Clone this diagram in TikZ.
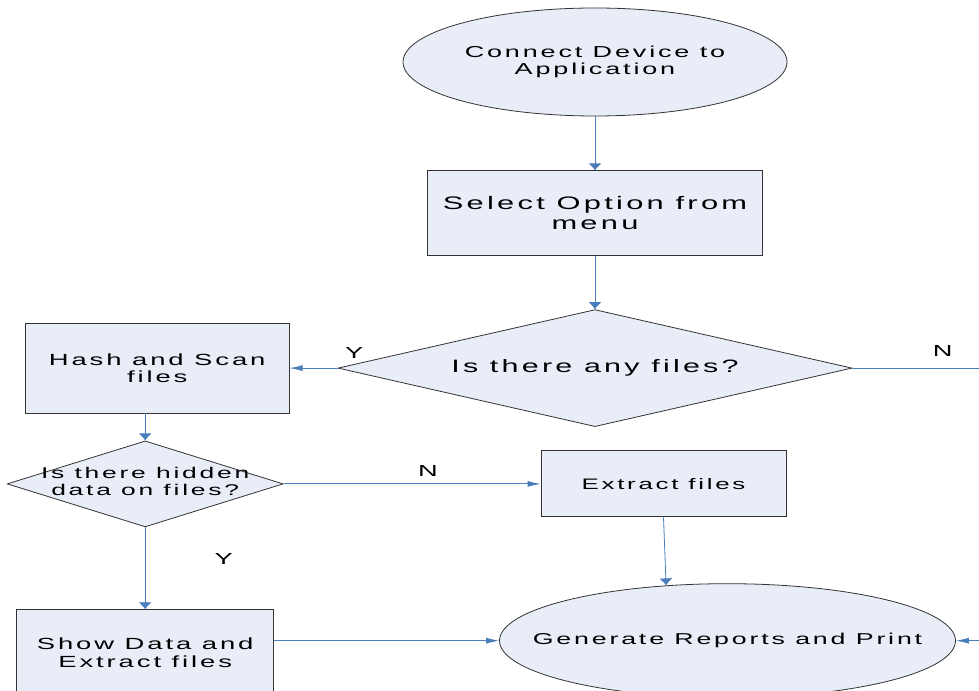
\documentclass[tikz,border=0pt]{standalone}
\usepackage{fontspec}
\newfontfamily\flowfont{Liberation Sans}[FakeStretch=1.7,LetterSpace=18]
\usetikzlibrary{shapes.geometric,arrows.meta,positioning,calc}
\definecolor{boxfill}{RGB}{232,237,247}
\definecolor{linkblue}{RGB}{74,126,187}
\newcommand\flowsize[2]{\flowfont\fontsize{#1}{#2}\selectfont}
\tikzstyle{vline} = [draw=linkblue, -{Latex[length=5.25pt,width=9.75pt]}, line width=.6pt, fill=none]
\tikzstyle{hline} = [draw=linkblue, -{Latex[length=9.75pt,width=4.5pt]}, line width=.6pt, fill=none]

\begin{document}
\begin{tikzpicture}[
    terminal/.style={
      ellipse,
      draw=black!80,
      line width=.6pt,
      fill=boxfill,
      inner sep=0pt,
      align=center
    },
    process/.style={
      rectangle,
      draw=black!80,
      line width=.6pt,
      fill=boxfill,
      inner sep=0pt,
      align=center
    },
    decision/.style={
      diamond,
      draw=black!80,
      line width=.6pt,
      fill=boxfill,
      inner sep=0pt,
      align=center
    },
    answer/.style={
      inner sep=0pt,
      font=\flowsize{12}{13}
    }
  ]

  \useasboundingbox (0,0) rectangle (734.25pt,-518.25pt);
  \clip (0,0) rectangle (734.25pt,-518.25pt);

  \node[terminal,minimum width=288pt,minimum height=81pt,font=\flowsize{11.9}{12.9}] (connect) at (446.25pt,-46.5pt) {Connect Device to\\Application};
  \node[process,below=40.5pt of connect,minimum width=251.25pt,minimum height=63.75pt,font=\flowsize{13.6}{15}] (select) {Select Option from\\menu};
  \node[decision,below=39.75pt of select,aspect=4.4,minimum width=385.5pt,minimum height=87.75pt,font=\flowsize{13.45}{14}] (anyfiles) {Is there any files?};

  \node[process,left=36pt of anyfiles,minimum width=198pt,minimum height=67.5pt,font=\flowsize{12.1}{13}] (hash) {Hash and Scan\\files};
  \node[decision,below=20.25pt of hash,xshift=-9pt,aspect=3.2,minimum width=207pt,minimum height=64.5pt,font=\flowsize{11.65}{12.7}] (hidden) {\makebox[0pt]{\begin{tabular}{@{}c@{}}Is there hidden\\data on files?\end{tabular}}};
  \node[process,right=192.75pt of hidden,minimum width=183.75pt,minimum height=49.5pt,font=\flowsize{11.4}{12}] (extract) {Extract files};

  \node[process,below=61.5pt of hidden,minimum width=192.75pt,minimum height=64.5pt,font=\flowsize{12.1}{13.2}] (show) {Show Data and\\Extract files};
  \node[terminal,right=168.75pt of show,yshift=9pt,minimum width=342pt,minimum height=85.5pt,font=\flowsize{11.8}{12.5}] (generate) {\makebox[0pt]{Generate Reports and Print}};

  \coordinate[right=110pt of anyfiles.east] (rail);

  \draw[vline] (connect) -- (select);
  \draw[vline] (select) -- (anyfiles);

  \draw[hline] (anyfiles.west) -- node[answer,pos=0,above right=6.75pt and 5.25pt] {Y} (hash.east);
  \draw[hline] (anyfiles.east) -- node[answer,pos=0,above right=8.25pt and 60pt] {N} (rail) |- (generate.east);

  \draw[vline] (hash.south -| hidden.north) -- (hidden.north);
  \draw[hline] (hidden.east) -- node[answer,pos=0,above right=5pt and 100.5pt] {N} (extract.west);
  \draw[vline] (hidden.south) -- node[answer,pos=0,below right=19.5pt and 51.75pt] {Y} (show.north);

  \draw[vline] (extract.south) -- (generate.138);
  \draw[hline] (show.east |- generate.west) -- (generate.west);

\end{tikzpicture}
\end{document}
